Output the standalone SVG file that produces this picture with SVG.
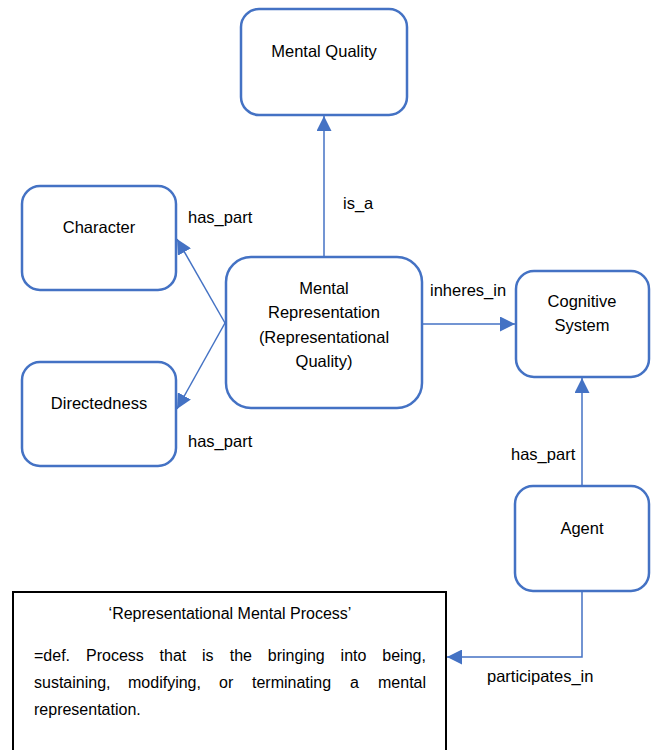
<svg xmlns="http://www.w3.org/2000/svg" width="653" height="750" viewBox="0 0 653 750">
<style>
.node rect{fill:#fff;stroke:#4472C4;stroke-width:2.5}
.node text,.lbl,.box text{font-family:"Liberation Sans",Arial,sans-serif;font-size:16.5px;fill:#000}
.node text{text-anchor:middle}
.edge{fill:none;stroke:#4472C4;stroke-width:1.5}
.box rect{fill:#fff;stroke:#000;stroke-width:2}
.box text{font-size:16px}
</style>
<defs>
<marker id="arr" viewBox="0 0 15 15" markerWidth="15" markerHeight="15" refX="15" refY="7.5" orient="auto" markerUnits="userSpaceOnUse">
<path d="M0,0 L15,7.5 L0,15 z" fill="#4472C4"/>
</marker>
</defs>
<rect width="653" height="750" fill="#fff"/>
<g id="connectors">
<path class="edge" d="M324,257 V116" marker-end="url(#arr)"/>
<path class="edge" d="M225,323 L177,239" marker-end="url(#arr)"/>
<path class="edge" d="M225,323 L177,409" marker-end="url(#arr)"/>
<path class="edge" d="M422,324 H515" marker-end="url(#arr)"/>
<path class="edge" d="M582,486 V378" marker-end="url(#arr)"/>
<path class="edge" d="M582,591 V657 H447" marker-end="url(#arr)"/>
<text class="lbl" x="343" y="209">is_a</text>
<text class="lbl" x="188" y="223">has_part</text>
<text class="lbl" x="188" y="447">has_part</text>
<text class="lbl" x="430" y="296">inheres_in</text>
<text class="lbl" x="511" y="460">has_part</text>
<text class="lbl" x="487" y="682">participates_in</text>
</g>
<g id="mental-quality" class="node">
<rect x="241" y="9" width="166" height="106" rx="18"/>
<text x="324" y="57">Mental Quality</text>
</g>
<g id="character" class="node">
<rect x="22" y="186" width="154" height="104" rx="18"/>
<text x="99" y="233">Character</text>
</g>
<g id="directedness" class="node">
<rect x="22" y="362" width="154" height="104" rx="18"/>
<text x="99" y="409">Directedness</text>
</g>
<g id="mental-representation" class="node">
<rect x="226" y="257" width="196" height="151" rx="25"/>
<text x="324" y="294">Mental</text>
<text x="324" y="318">Representation</text>
<text x="324" y="343">(Representational</text>
<text x="324" y="367">Quality)</text>
</g>
<g id="cognitive-system" class="node">
<rect x="516" y="271" width="133" height="106" rx="18"/>
<text x="582" y="307">Cognitive</text>
<text x="582" y="331">System</text>
</g>
<g id="agent" class="node">
<rect x="515" y="486" width="134" height="105" rx="18"/>
<text x="582" y="534">Agent</text>
</g>
<g id="definition" class="box">
<rect x="13" y="592" width="433" height="170"/>
<text x="230" y="619" text-anchor="middle">‘Representational Mental Process’</text>
<text y="661"><tspan x="34">=def.</tspan><tspan x="86">Process</tspan><tspan x="159.6">that</tspan><tspan x="202">is</tspan><tspan x="229.7">the</tspan><tspan x="267.8">bringing</tspan><tspan x="340.6">into</tspan><tspan x="382.3">being,</tspan></text>
<text y="688"><tspan x="34">sustaining,</tspan><tspan x="128">modifying,</tspan><tspan x="219">or</tspan><tspan x="252">terminating</tspan><tspan x="350">a</tspan><tspan x="378">mental</tspan></text>
<text y="715"><tspan x="34">representation.</tspan></text>
</g>
</svg>
